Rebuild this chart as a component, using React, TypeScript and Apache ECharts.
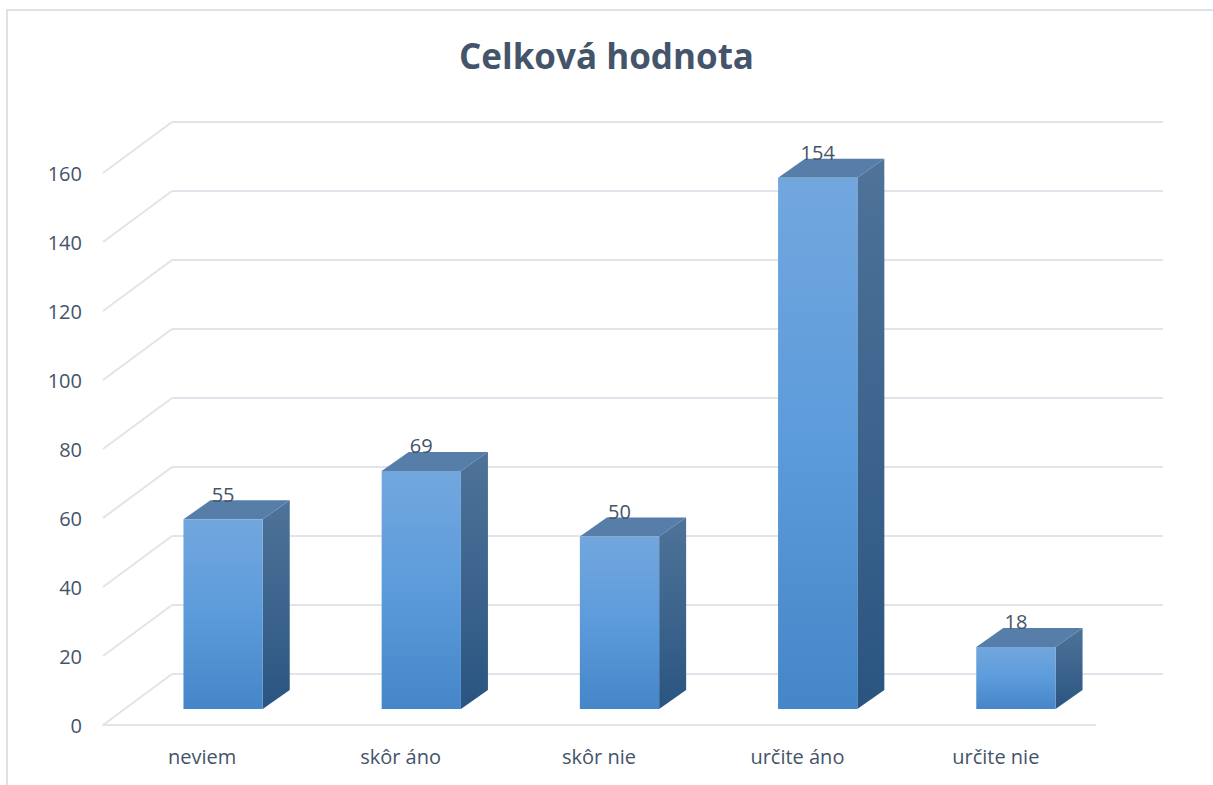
import React, { useEffect, useRef } from "react";
import * as echarts from "echarts";

const categories = ["neviem", "skôr áno", "skôr nie", "určite áno", "určite nie"];
const values = [55, 69, 50, 154, 18];
const yTicks = [0, 20, 40, 60, 80, 100, 120, 140, 160];
const title = "Celková hodnota";

const FONT = "'Open Sans', 'Noto Sans', sans-serif";
const TEXT = "#44546a";
const GRID = "#e1e4ea";

export default function App() {
  const ref = useRef<HTMLDivElement>(null);
  useEffect(() => {
    if (!ref.current) return;
    const chart = echarts.init(ref.current, undefined, { renderer: "svg" });
    const DX = 69, DY = -51; // floor depth
    const BDX = 27, BDY = -19; // bar depth
    const option: any = {
      animation: false,
      backgroundColor: "#ffffff",
      textStyle: { fontFamily: FONT },
      title: {
        text: title,
        left: "center",
        top: 33,
        textStyle: { fontFamily: FONT, fontSize: 35, fontWeight: "bold", color: TEXT },
      },
      graphic: [
        {
          type: "rect",
          shape: { x: 7, y: 10, width: 1240, height: 820 },
          style: { fill: "none", stroke: "#dde1e8", lineWidth: 2 },
          silent: true,
          z: -10,
        },
      ],
      grid: [
        { left: 172, top: 122, width: 991, height: 552 }, // back wall
        { left: 103, top: 173, width: 992, height: 552 }, // front plane
        { left: 124, top: 157, width: 991, height: 552 }, // bar front plane
      ],
      xAxis: [
        { gridIndex: 0, type: "category", data: categories, show: false },
        {
          gridIndex: 1,
          type: "category",
          data: categories,
          axisLine: { show: true, lineStyle: { color: GRID, width: 2 } },
          axisTick: { show: false },
          axisLabel: { color: TEXT, fontSize: 20, fontFamily: FONT, margin: 21 },
          splitLine: { show: false },
        },
        { gridIndex: 2, type: "category", data: categories, show: false },
      ],
      yAxis: [
        {
          gridIndex: 0,
          type: "value",
          min: 0,
          max: 160,
          interval: 20,
          axisLine: { show: false },
          axisTick: { show: false },
          axisLabel: { show: false },
          splitLine: { show: true, lineStyle: { color: GRID, width: 2 } },
        },
        {
          gridIndex: 1,
          type: "value",
          min: 0,
          max: 160,
          interval: 20,
          axisLine: { show: false },
          axisTick: { show: false },
          axisLabel: { color: TEXT, fontSize: 20, fontFamily: FONT, margin: 21 },
          splitLine: { show: false },
        },
        { gridIndex: 2, type: "value", min: 0, max: 160, show: false, splitLine: { show: false } },
      ],
      series: [
        {
          type: "custom",
          xAxisIndex: 1,
          yAxisIndex: 1,
          data: yTicks.map((t) => [0, t]),
          silent: true,
          renderItem: (params: any, api: any) => {
            const y = api.coord([0, api.value(1)])[1];
            const x = params.coordSys.x;
            return {
              type: "line",
              shape: { x1: x, y1: y, x2: x + DX, y2: y + DY },
              style: { stroke: GRID, lineWidth: 2 },
            };
          },
          z: 1,
        },
        {
          type: "custom",
          xAxisIndex: 2,
          yAxisIndex: 2,
          data: values.map((v, i) => [i, v]),
          renderItem: (params: any, api: any) => {
            const idx = api.value(0);
            const v = api.value(1);
            const top = api.coord([idx, v]);
            const base = api.coord([idx, 0]);
            const w = api.size([1, 0])[0] * 0.4;
            const x0 = top[0] - w / 2;
            const x1 = top[0] + w / 2;
            const yt = top[1];
            const yb = base[1];
            return {
              type: "group",
              children: [
                {
                  type: "polygon",
                  shape: {
                    points: [
                      [x1, yt],
                      [x1 + BDX, yt + BDY],
                      [x1 + BDX, yb + BDY],
                      [x1, yb],
                    ],
                  },
                  style: {
                    fill: new echarts.graphic.LinearGradient(0, 0, 0, 1, [
                      { offset: 0, color: "#4f7399" },
                      { offset: 1, color: "#2a5581" },
                    ]),
                  },
                },
                {
                  type: "polygon",
                  shape: {
                    points: [
                      [x0, yt],
                      [x0 + BDX, yt + BDY],
                      [x1 + BDX, yt + BDY],
                      [x1, yt],
                    ],
                  },
                  style: { fill: "#567ea8" },
                },
                {
                  type: "rect",
                  shape: { x: x0, y: yt, width: w, height: yb - yt },
                  style: {
                    fill: new echarts.graphic.LinearGradient(0, 0, 0, 1, [
                      { offset: 0, color: "#72a7de" },
                      { offset: 0.5, color: "#5c9bdb" },
                      { offset: 1, color: "#4586c8" },
                    ]),
                  },
                },
                {
                  type: "text",
                  style: {
                    x: top[0],
                    y: yt - 25,
                    text: String(v),
                    fill: TEXT,
                    fontSize: 20,
                    fontFamily: FONT,
                    align: "center",
                    verticalAlign: "middle",
                  },
                },
              ],
            };
          },
          z: 2,
        },
      ],
    };
    chart.setOption(option);
    return () => chart.dispose();
  }, []);
  return (
    <div
      ref={ref}
      style={{ position: "fixed", left: 0, top: 0, width: 1213, height: 785 }}
    />
  );
}
